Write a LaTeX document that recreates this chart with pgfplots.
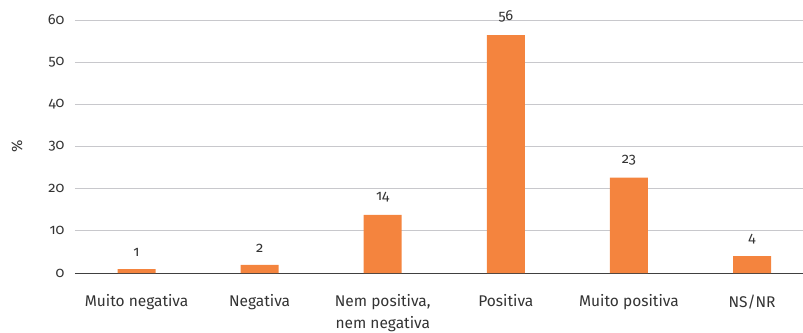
\documentclass[border=0pt]{standalone}
\usepackage{pgfplots}
\pgfplotsset{compat=1.18}
\usepackage{fontspec}
\setmainfont{Fira Sans}[Numbers=OldStyle]
\newfontfamily\numfont{Fira Sans}[Numbers=OldStyle]
\definecolor{barorange}{HTML}{F4843E}
\definecolor{txt}{HTML}{333333}
\definecolor{gridgray}{HTML}{C8C8CC}

\begin{document}
\begin{tikzpicture}
\begin{axis}[
	name=ax,
	scale only axis,
	width=728pt, height=253pt,
	xmin=-0.5, xmax=5.414,
	ymin=0, ymax=60,
	ytick={0,10,20,30,40,50,60},
	xtick=data,
	xticklabels={Muito negativa,Negativa,{Nem positiva,\\nem negativa},Positiva,Muito positiva,NS/NR},
	axis x line*=bottom, axis y line*=left,
	y axis line style={draw=none},
	x axis line style={draw=black!75, line width=0.9pt, -},
	major tick length=0pt,
	ymajorgrids, grid style={gridgray, line width=0.8pt},
	/pgf/number format/assume math mode=true,
	yticklabel style={font=\numfont\fontsize{14.5}{18}\selectfont, text=txt, xshift=-7pt},
	xticklabel style={align=center, font=\fontsize{15.5}{22}\selectfont, text=txt, yshift=-18pt},
	ylabel={\%},
	every axis y label/.style={at={(axis description cs:-0.0797,0.5)}, rotate=90, anchor=center, font=\fontsize{15}{18}\selectfont, text=txt},
	ybar, bar width=38pt,
	nodes near coords, point meta=explicit symbolic,
	every node near coord/.append style={font=\numfont\fontsize{14.5}{18}\selectfont, text=txt, yshift=9pt},
]
\addplot[fill=barorange, draw=none] coordinates {
	(0,0.9) [1]
	(1,1.9) [2]
	(2,13.8) [14]
	(3,56.4) [56]
	(4,22.6) [23]
	(5,4.0) [4]
};
\end{axis}
\pgfresetboundingbox
\path ([xshift=-75pt,yshift=-59pt]ax.south west) rectangle ([yshift=20pt]ax.north east);
\end{tikzpicture}
\end{document}
